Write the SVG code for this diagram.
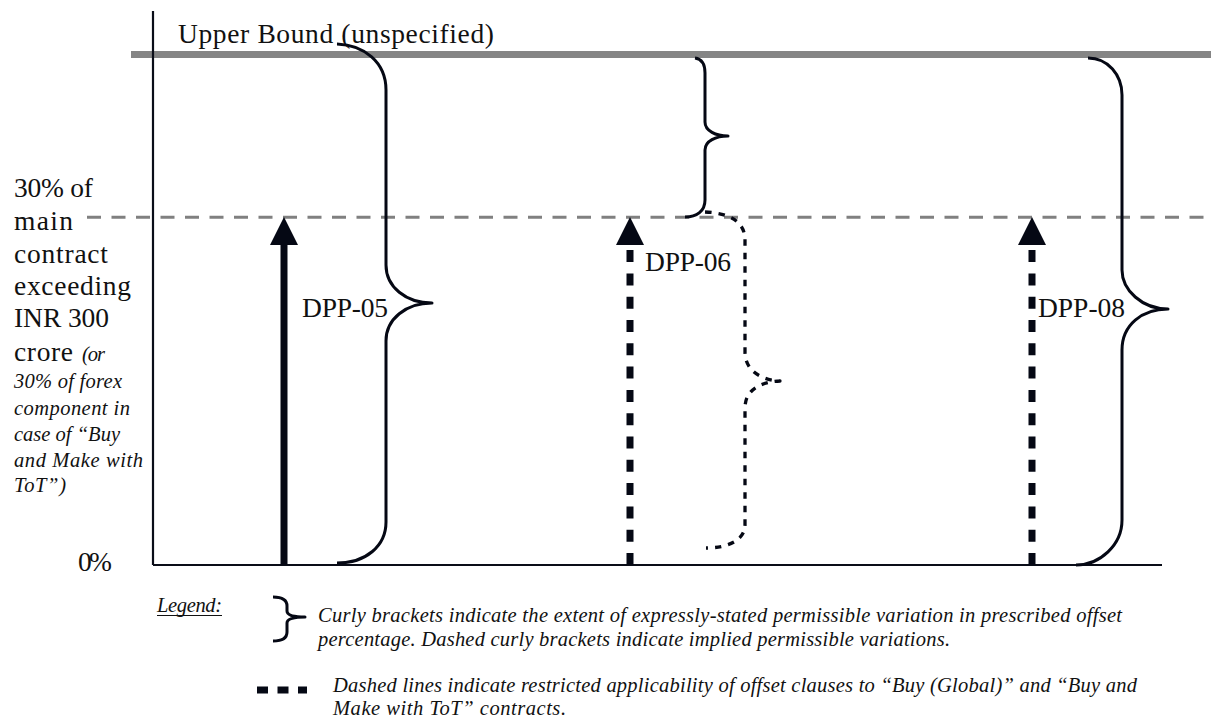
<svg xmlns="http://www.w3.org/2000/svg" width="1211" height="725" viewBox="0 0 1211 725">
  <style>
    .lbl { font-family: "Liberation Serif", "Times New Roman", serif; font-size: 27.5px; fill: #111; }
    .it { font-family: "Liberation Serif", "Times New Roman", serif; font-size: 20.5px; font-style: italic; fill: #111; }
    .brace { fill: none; stroke: #050814; stroke-width: 3; stroke-linecap: butt; stroke-linejoin: round; }
    .dotted { stroke-dasharray: 6.5 7; stroke-width: 3.3; }
    .shaft { stroke: #050814; stroke-width: 7; fill: none; }
    .dash { stroke-dasharray: 12 11.3; }
    .head { fill: #050814; }
  </style>

  <rect width="1211" height="725" fill="#ffffff"/>

  <!-- axes and reference levels -->
  <g id="axes">
    <line x1="131" y1="54.5" x2="1211" y2="54.5" stroke="#858585" stroke-width="7"/>
    <line x1="87" y1="217.3" x2="1211" y2="217.3" stroke="#808080" stroke-width="3" stroke-dasharray="14 10.5"/>
    <line x1="153" y1="11" x2="153" y2="565" stroke="#0a0d18" stroke-width="2.2"/>
    <line x1="153" y1="565" x2="1162" y2="565" stroke="#0a0d18" stroke-width="2"/>
  </g>

  <!-- axis labels -->
  <g id="axis-labels">
    <text class="lbl" x="178" y="43" textLength="316" lengthAdjust="spacing">Upper Bound (unspecified)</text>
    <text class="lbl" x="14" y="197" textLength="79">30% of</text>
    <text class="lbl" x="14" y="230" textLength="59">main</text>
    <text class="lbl" x="14" y="263" textLength="94">contract</text>
    <text class="lbl" x="14" y="295" textLength="117">exceeding</text>
    <text class="lbl" x="14" y="327" textLength="95">INR 300</text>
    <text class="lbl" x="14" y="361"><tspan textLength="59">crore</tspan><tspan class="it" x="82" textLength="23">(or</tspan></text>
    <text class="it" x="14" y="388" textLength="108">30% of forex</text>
    <text class="it" x="14" y="415" textLength="116">component in</text>
    <text class="it" x="14" y="441" textLength="106">case of “Buy</text>
    <text class="it" x="14" y="467" textLength="129">and Make with</text>
    <text class="it" x="14" y="492" textLength="52">ToT”)</text>
    <text class="lbl" x="78" y="571" textLength="34">0%</text>
  </g>

  <!-- DPP-05 -->
  <g id="dpp05">
    <line class="shaft" x1="284" y1="565" x2="284" y2="243"/>
    <polygon class="head" points="284,217 270,245 298,245"/>
    <text class="lbl" x="302" y="317" textLength="86">DPP-05</text>
    <path class="brace" d="M337,44 C364,45 386,62 386,90 L386,265 C386,287 406,303 432,303 C406,303 386,319 386,341 L386,522 C386,546 366,563 337,563"/>
  </g>

  <!-- DPP-06 -->
  <g id="dpp06">
    <line class="shaft dash" x1="630" y1="565" x2="630" y2="245"/>
    <polygon class="head" points="630,217 616,245 644,245"/>
    <text class="lbl" x="645" y="271" textLength="86">DPP-06</text>
    <path class="brace" d="M695,58 C702,59 705,64 705,73 L705,122 C705,131 716,136 728,136 C716,136 705,141 705,150 L705,200 C705,211 697,217 685,217"/>
    <path class="brace dotted" d="M705,212 C730,213 745,222 745,240 L745,352 C745,370 760,380 780,381 C760,382 745,390 745,408 L745,525 C745,540 728,548 706,548"/>
  </g>

  <!-- DPP-08 -->
  <g id="dpp08">
    <line class="shaft dash" x1="1032" y1="565" x2="1032" y2="245"/>
    <polygon class="head" points="1032,217 1018,245 1046,245"/>
    <text class="lbl" x="1038" y="317" textLength="87">DPP-08</text>
    <path class="brace" d="M1088,58 C1108,58 1122,75 1122,95 L1122,270 C1122,290 1142,309 1168,309 C1142,309 1122,325 1122,350 L1122,520 C1122,545 1100,565 1076,565"/>
  </g>

  <!-- legend -->
  <g id="legend">
    <text class="it" x="157" y="612" textLength="65">Legend:</text>
    <line x1="157" y1="615.5" x2="222" y2="615.5" stroke="#111" stroke-width="1"/>
    <path class="brace" stroke-width="4" d="M273,597 C283,597 287,600 287,606 L287,611 C287,615 292,617 305,617 C292,617 287,619 287,623 L287,632 C287,638 283,641 273,641"/>
    <text class="it" x="318" y="622" textLength="804">Curly brackets indicate the extent of expressly-stated permissible variation in prescribed offset</text>
    <text class="it" x="318" y="646" textLength="632">percentage. Dashed curly brackets indicate implied permissible variations.</text>
    <line x1="257" y1="690" x2="307" y2="690" stroke="#050814" stroke-width="7" stroke-dasharray="11 9.5"/>
    <text class="it" x="333" y="692" textLength="804">Dashed lines indicate restricted applicability of offset clauses to “Buy (Global)” and “Buy and</text>
    <text class="it" x="333" y="715" textLength="233">Make with ToT” contracts.</text>
  </g>
</svg>
